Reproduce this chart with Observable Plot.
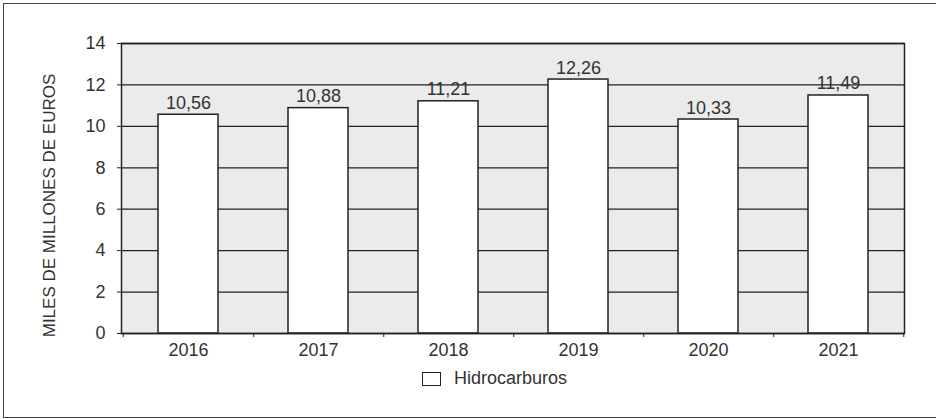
<!DOCTYPE html>
<html>
<head>
<meta charset="utf-8">
<script src="https://cdn.jsdelivr.net/npm/d3@7"></script>
<script src="https://cdn.jsdelivr.net/npm/@observablehq/plot@0.6"></script>
<style>
  body { margin: 0; background: #fff; font-family: "Liberation Sans", Arial, sans-serif; }
  #wrap { position: relative; width: 936px; height: 419px; overflow: hidden; }
  #frame { position: absolute; left: 3px; top: 2.5px; width: 960px; height: 415px; border: 1.5px solid #444; box-sizing: border-box; pointer-events: none; }
  #chart { position: absolute; left: 0; top: 0; }
  #legend { position: absolute; left: 422px; top: 368px; display: flex; align-items: center; font-size: 18px; color: #333; }
  #legend .sw { width: 19px; height: 14px; border: 1.5px solid #222; box-sizing: border-box; background: #fff; margin-right: 13px; }
</style>
</head>
<body>
<div id="wrap">
  <div id="chart"></div>
  <div id="frame"></div>
  <div id="legend"><div class="sw"></div><span id="legend-text"></span></div>
</div>
<script>
const years = ["2016", "2017", "2018", "2019", "2020", "2021"];
const values = [10.56, 10.88, 11.21, 12.26, 10.33, 11.49];
const yTicks = [0, 2, 4, 6, 8, 10, 12, 14];
const yLabel = "MILES DE MILLONES DE EUROS";
const seriesName = "Hidrocarburos";

const data = years.map((year, i) => ({
  year,
  value: values[i],
  label: values[i].toFixed(2).replace(".", ",")
}));

const fontFamily = "'Liberation Sans', Arial, sans-serif";
const ink = "#222";
const textInk = "#333";

const chart = Plot.plot({
  width: 936,
  height: 419,
  marginLeft: 121,
  marginRight: 32,
  marginTop: 43,
  marginBottom: 86,
  style: { fontFamily, fontSize: "18px", color: ink, background: "transparent", overflow: "visible" },
  x: { domain: years, paddingInner: 0.54, paddingOuter: 0.27 },
  y: { domain: [0, 14] },
  marks: [
    Plot.frame({ fill: "#ebebeb" }),
    Plot.gridY(yTicks, { stroke: ink, strokeOpacity: 1, strokeWidth: 1.3 }),
    Plot.barY(data, { x: "year", y: "value", fill: "white", stroke: ink, strokeWidth: 1.5 }),
    Plot.text(data, { x: "year", y: "value", text: "label", lineAnchor: "bottom", dy: -6, fill: textInk }),
    Plot.frame({ stroke: ink, strokeWidth: 1.5 }),
    Plot.axisY(yTicks, { anchor: "left", tickSize: 4, tickPadding: 12, label: null, tickFormat: d => String(d), fill: textInk }),
    Plot.axisX({ tickSize: 0, tickPadding: 10, label: null, fill: textInk }),
    Plot.axisX({ tickSize: 4, text: null, dx: 65.25, label: null }),
    Plot.axisX([years[0]], { tickSize: 4, text: null, dx: -65.25, label: null }),
    Plot.text([yLabel], { frameAnchor: "left", textAnchor: "middle", rotate: -90, dx: -71.5, dy: 17, fill: textInk, fontSize: 17 })
  ]
});

document.getElementById("chart").appendChild(chart);
document.getElementById("legend-text").textContent = seriesName;
</script>
</body>
</html>
